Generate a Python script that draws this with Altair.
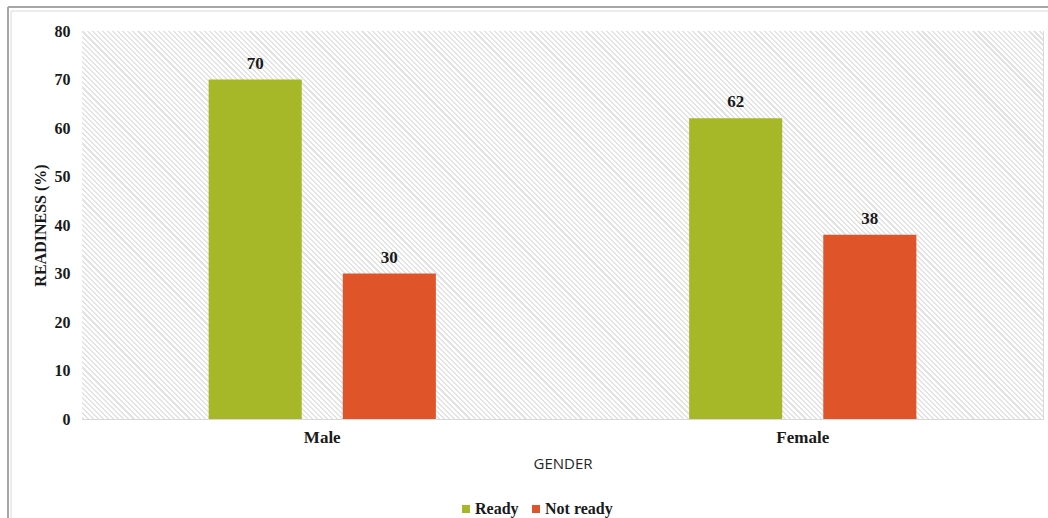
import altair as alt
import pandas as pd

# Readiness by gender
genders = ["Male", "Female"]
statuses = ["Ready", "Not ready"]
ready = [70, 62]
not_ready = [30, 38]
colors = ["#a6b828", "#e0542a"]

rows = []
for g, r, n in zip(genders, ready, not_ready):
    rows.append({"gender": g, "status": "Ready", "value": r})
    rows.append({"gender": g, "status": "Not ready", "value": n})
df = pd.DataFrame(rows)

# Plot area geometry
W, H = 961, 388
PAD = {"left": 82, "top": 31, "right": 5, "bottom": 99}

# Diagonal hatch for the plot background, built as a striped linear gradient
ratio = H / W
k = (1 + ratio) / (1 + ratio * ratio)
span = (W + H) / 2 ** 0.5
period = 3.6
ink = 1.5
stops = []
pos = 0.0
while pos < span:
    a = pos / span
    b = min((pos + ink) / span, 1.0)
    c = min((pos + period) / span, 1.0)
    stops += [
        {"offset": a, "color": "#e3e3e3"},
        {"offset": b, "color": "#e3e3e3"},
        {"offset": b, "color": "#ffffff"},
        {"offset": c, "color": "#ffffff"},
    ]
    pos += period
hatch = {
    "gradient": "linear",
    "x1": 0, "y1": 1,
    "x2": k, "y2": 1 - k * ratio,
    "stops": stops,
}

serif = "Liberation Serif"

one = pd.DataFrame({"k": [0]})
background = alt.Chart(one).mark_rect(fill=hatch).encode(
    x=alt.value(0), x2=alt.value("width"), y=alt.value(0), y2=alt.value("height")
)

base = alt.Chart(df).encode(
    x=alt.X(
        "gender:N",
        sort=genders,
        scale=alt.Scale(paddingInner=0, paddingOuter=0),
        axis=alt.Axis(
            title="GENDER",
            titleFont="Open Sans",
            titleFontWeight="normal",
            titleFontSize=15,
            titleColor="#262626",
            titlePadding=11,
            labelAngle=0,
            labelFont=serif,
            labelFontWeight="bold",
            labelFontSize=17,
            labelColor="#1a1a1a",
            labelPadding=10,
            ticks=False,
            domainColor="#d9d9d9",
            grid=True,
            gridColor="#d9d9d9",
            bandPosition=0,
        ),
    ),
    xOffset=alt.XOffset(
        "status:N",
        sort=statuses,
        scale=alt.Scale(paddingInner=0.306, paddingOuter=0.944),
    ),
)

bars = base.mark_bar().encode(
    y=alt.Y(
        "value:Q",
        scale=alt.Scale(domain=[0, 80]),
        axis=alt.Axis(
            title="READINESS (%)",
            titleFont=serif,
            titleFontWeight="bold",
            titleFontSize=16,
            titleColor="#1a1a1a",
            titlePadding=6,
            values=list(range(0, 81, 10)),
            labelFont=serif,
            labelFontWeight="bold",
            labelFontSize=16,
            labelColor="#1a1a1a",
            labelPadding=12,
            ticks=False,
            domain=False,
            gridColor="#d9d9d9",
        ),
    ),
    color=alt.Color(
        "status:N",
        sort=statuses,
        scale=alt.Scale(domain=statuses, range=colors),
        legend=alt.Legend(
            title=None,
            orient="none",
            direction="horizontal",
            legendX=376,
            legendY=470,
            symbolType="square",
            symbolSize=64,
            symbolStrokeWidth=0,
            symbolOpacity=1,
            labelFont=serif,
            labelFontWeight="bold",
            labelFontSize=16,
            labelColor="#1a1a1a",
            labelOffset=1,
            columnPadding=9,
        ),
    ),
)

labels = base.mark_text(
    font=serif,
    fontWeight="bold",
    fontSize=17,
    color="#1a1a1a",
    baseline="alphabetic",
    dy=-11,
).encode(
    y=alt.Y("value:Q"),
    text=alt.Text("value:Q"),
)

# Outer double frame on the top and left edges
frame = alt.Chart(one)
top_dark = frame.mark_rule(color="#a6a6a6", strokeWidth=2).encode(
    x=alt.value(-74), x2=alt.value(W + PAD["right"]), y=alt.value(-24)
)
top_light = frame.mark_rule(color="#d9d9d9", strokeWidth=1).encode(
    x=alt.value(-71), x2=alt.value(W + PAD["right"]), y=alt.value(-20)
)
left_dark = frame.mark_rule(color="#a6a6a6", strokeWidth=2).encode(
    x=alt.value(-74), y=alt.value(-24), y2=alt.value(H + PAD["bottom"])
)
left_light = frame.mark_rule(color="#d9d9d9", strokeWidth=1).encode(
    x=alt.value(-71), y=alt.value(-20), y2=alt.value(H + PAD["bottom"])
)

chart = (
    alt.layer(background, bars, labels, top_dark, top_light, left_dark, left_light)
    .properties(
        width=W,
        height=H,
        padding=PAD,
        autosize=alt.AutoSizeParams(type="none"),
        background="#ffffff",
    )
    .configure_view(stroke="#d9d9d9", strokeWidth=1)
    .configure_axis(gridColor="#d9d9d9")
)

chart.save("out.html", embed_options={"renderer": "svg", "actions": False})
